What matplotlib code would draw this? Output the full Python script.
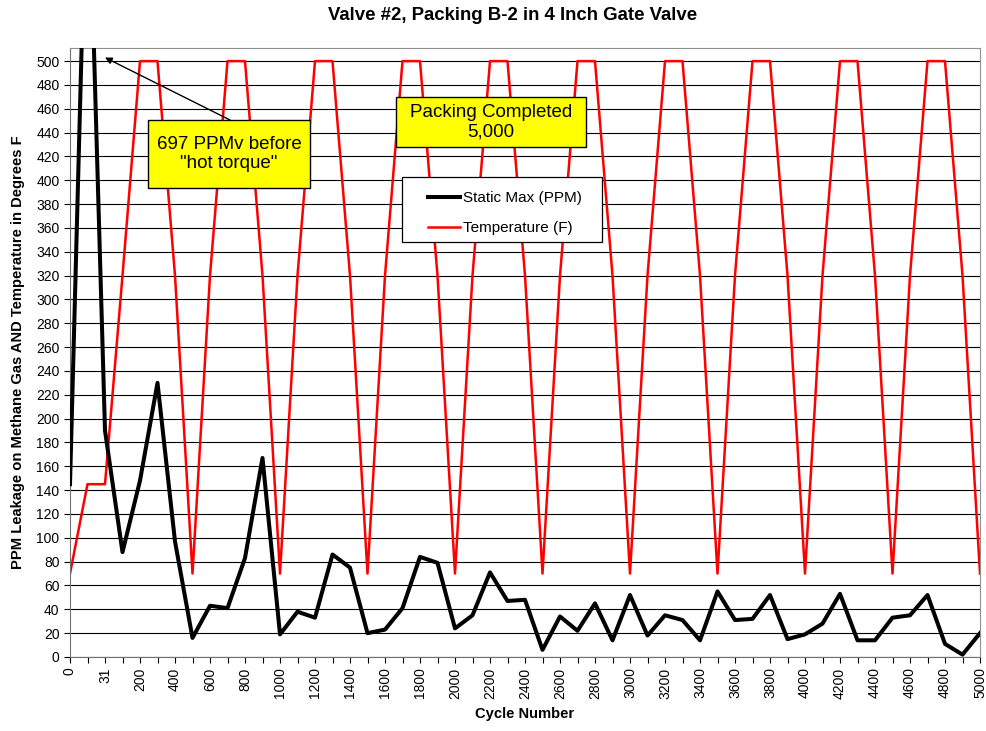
import matplotlib.pyplot as plt
from matplotlib.patches import Rectangle
import numpy as np

plt.rcParams['font.family'] = ['Liberation Sans', 'DejaVu Sans']

# DATA
cycles = ['0', '1', '31'] + [str(c) for c in range(100, 5001, 100)]
static_max = [145, 697, 190, 88, 148, 230, 97, 16, 43, 41,
              83, 167, 19, 38, 33, 86, 75, 20, 23, 41,
              84, 79, 24, 35, 71, 47, 48, 6, 34, 22,
              45, 14, 52, 18, 35, 31, 14, 55, 31, 32,
              52, 15, 19, 28, 53, 14, 14, 33, 35, 52,
              11, 2, 20]
temperature = [70, 145, 145, 320, 500, 500, 320, 70, 320, 500,
               500, 320, 70, 320, 500, 500, 320, 70, 320, 500,
               500, 320, 70, 320, 500, 500, 320, 70, 320, 500,
               500, 320, 70, 320, 500, 500, 320, 70, 320, 500,
               500, 320, 70, 320, 500, 500, 320, 70, 320, 500,
               500, 320, 70]

W, H = 987, 731
x = np.arange(len(cycles))

def fx(px):
    return px / W

def fy(py):
    return 1 - py / H

fig = plt.figure(figsize=(W / 100, H / 100), dpi=100)
ax = fig.add_axes([fx(70), fy(657), 910 / W, 609 / H])

ax.plot(x, static_max, color='black', lw=2.9, label='Static Max (PPM)', zorder=3)
ax.plot(x, temperature, color='#ff0000', lw=1.8, label='Temperature (F)', zorder=2)

ax.set_xlim(0, len(cycles) - 1)
ax.set_ylim(0, 511)
ax.set_yticks(np.arange(0, 501, 20))
ax.set_xticks(x)
ax.set_xticklabels([c if i % 2 == 0 else '' for i, c in enumerate(cycles)], rotation=90, fontsize=10)
ax.tick_params(axis='y', labelsize=10, length=4, direction='out')
ax.tick_params(axis='x', length=4, direction='out')
ax.yaxis.grid(True, color='black', lw=0.8)
ax.set_axisbelow(True)
for side in ['top', 'right']:
    ax.spines[side].set_color('#909090')
for side in ['left', 'bottom']:
    ax.spines[side].set_color('#707070')

ax.set_xlabel('Cycle Number', fontsize=10.6, fontweight='bold', labelpad=6)
ax.set_ylabel('PPM Leakage on Methane Gas AND Temperature in Degrees F', fontsize=10.6,
              fontweight='bold', labelpad=8)
fig.text(fx(513), fy(15), 'Valve #2, Packing B-2 in 4 Inch Gate Valve',
         ha='center', va='center', fontsize=13.4, fontweight='bold')

# callout boxes
for (x0, y0, x1, y1) in [(148, 120, 310, 188), (396, 97, 586, 147)]:
    ax.add_patch(Rectangle((fx(x0), fy(y1)), (x1 - x0) / W, (y1 - y0) / H,
                           transform=fig.transFigure, fc='#ffff00', ec='black',
                           lw=1, zorder=5, clip_on=False))
ax.text(fx(229), fy(154), '697 PPMv before\n"hot torque"', ha='center', va='center',
        fontsize=13.5, zorder=6, transform=fig.transFigure)
ax.text(fx(491), fy(122), 'Packing Completed\n5,000', ha='center', va='center',
        fontsize=13.5, zorder=6, transform=fig.transFigure)
ax.annotate('', xy=(2, 503), xycoords='data',
            xytext=(fx(230), fy(120)), textcoords='figure fraction',
            arrowprops=dict(arrowstyle='-|>', color='black', lw=1, mutation_scale=10,
                            shrinkA=0, shrinkB=0), zorder=6)

# legend
ax.add_patch(Rectangle((fx(402), fy(242)), 200 / W, 65 / H, transform=fig.transFigure,
                       fc='white', ec='black', lw=0.9, zorder=5, clip_on=False))
leg = ax.legend(loc='upper left', bbox_to_anchor=(fx(428), fy(191)), bbox_transform=fig.transFigure,
                fontsize=11, frameon=False, borderpad=0, borderaxespad=0,
                labelspacing=1.05, handlelength=2.1, handletextpad=0.2)
leg.set_zorder(7)

fig.savefig('out.png', dpi=100)
